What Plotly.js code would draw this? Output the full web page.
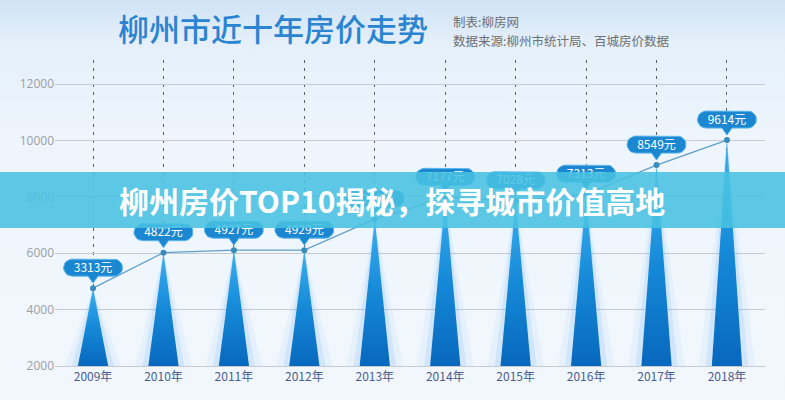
<!DOCTYPE html>
<html>
<head>
<meta charset="utf-8">
<script src="https://cdn.plot.ly/plotly-3.0.1.min.js"></script>
<style>
html, body { margin: 0; padding: 0; }
body {
  width: 785px; height: 400px; overflow: hidden;
  background: linear-gradient(180deg, #d0e3f5 0px, #e5f0fa 45px, #eef5fc 140px, #f1f7fd 400px);
}
#chart { width: 785px; height: 400px; }
</style>
</head>
<body>
<div id="chart"></div>
<script>
// ---- data ----
const years = ['2009', '2010', '2011', '2012', '2013', '2014', '2015', '2016', '2017', '2018'];
const prices = [3313, 4822, 4927, 4929, 6250, 7177, 7028, 7313, 8549, 9614];
const yTickVals = [2000, 4000, 6000, 8000, 10000, 12000];
const yTickText = ['2000', '4000', '6000', '8000', '10000', '12000'];
const titleText = '柳州市近十年房价走势';
const subLine1 = '制表:柳房网';
const subLine2 = '数据来源:柳州市统计局、百城房价数据';
const bannerText = '柳州房价TOP10揭秘，探寻城市价值高地';

// ---- layout constants ----
const W = 785, H = 400, M = {l: 55, r: 20, t: 60, b: 34};
const xRange = [-0.54, 9.54];
const y2Range = [0, 13021];
const plotW = W - M.l - M.r, plotH = H - M.t - M.b;
const sx = plotW / (xRange[1] - xRange[0]);   // px per x unit
const sy = plotH / (y2Range[1] - y2Range[0]); // px per y2 unit

// ---- build ----
const idx = years.map((_, i) => i);
const tickText = years.map(y => y + '年');
const labels = prices.map(v => v + '元');

const traces = [];
traces.push({x: [], y: [], type: 'scatter', mode: 'markers', yaxis: 'y', showlegend: false, hoverinfo: 'skip'});

// glow layers
[[0.40, 'rgba(80,175,240,0.07)'], [0.30, 'rgba(60,160,235,0.12)']].forEach(([hw, col]) => {
  idx.forEach(i => {
    traces.push({
      x: [i - hw, i, i + hw], y: [0, prices[i], 0], yaxis: 'y2',
      type: 'scatter', mode: 'lines', fill: 'toself', fillcolor: col,
      line: {width: 0}, showlegend: false, hoverinfo: 'skip'
    });
  });
});
// spikes
const hw = 0.215;
idx.forEach(i => {
  traces.push({
    x: [i - hw, i, i + hw], y: [0, prices[i], 0], yaxis: 'y2',
    type: 'scatter', mode: 'lines', fill: 'toself',
    fillgradient: {type: 'vertical', colorscale: [[0, '#0868bd'], [0.5, '#1589d7'], [1, '#3db0f1']]},
    line: {width: 0}, showlegend: false, hoverinfo: 'skip'
  });
});
// trend line
traces.push({
  x: idx, y: prices, yaxis: 'y2', type: 'scatter', mode: 'lines+markers',
  line: {color: '#5f9fcc', width: 1.2},
  marker: {size: 6, color: '#3a8cbd'},
  showlegend: false, hoverinfo: 'skip'
});

// bubble outline in pixel offsets (y up), converted to data space per point
function bubblePixels() {
  const pts = [[0, 5], [-5, 12], [-21, 12]];
  const r = 8.5, cy = 20.5;
  for (let k = 1; k <= 12; k++) { // left cap
    const a = -Math.PI / 2 - Math.PI * k / 12;
    pts.push([-21 + r * Math.cos(a), cy + r * Math.sin(a)]);
  }
  pts.push([21, 29]);
  for (let k = 1; k <= 12; k++) { // right cap
    const a = Math.PI / 2 - Math.PI * k / 12;
    pts.push([21 + r * Math.cos(a), cy + r * Math.sin(a)]);
  }
  pts.push([5, 12], [0, 5]);
  return pts;
}
const bp = bubblePixels();
idx.forEach(i => {
  traces.push({
    x: bp.map(p => idx[i] + p[0] / sx), y: bp.map(p => prices[i] + p[1] / sy), yaxis: 'y2',
    type: 'scatter', mode: 'lines', fill: 'toself', fillcolor: '#1b87d1',
    line: {color: '#5bb6ee', width: 1}, showlegend: false, hoverinfo: 'skip'
  });
});
// value labels (text)
traces.push({
  x: idx, y: prices, yaxis: 'y2', type: 'scatter', mode: 'markers+text',
  marker: {size: 20, opacity: 0}, text: labels, textposition: 'top center',
  textfont: {family: 'Noto Sans CJK SC', size: 12, color: '#ffffff'},
  showlegend: false, hoverinfo: 'skip', cliponaxis: false
});

const layout = {
  width: W, height: H,
  margin: M,
  paper_bgcolor: 'rgba(0,0,0,0)', plot_bgcolor: 'rgba(0,0,0,0)',
  hovermode: false, showlegend: false,
  title: {
    text: titleText, xref: 'container', yref: 'container',
    x: 118 / W, xanchor: 'left', y: 1 - 30 / H, yanchor: 'middle',
    font: {family: 'Noto Sans CJK SC', size: 31, color: '#2b84d1', weight: 500}
  },
  xaxis: {
    range: xRange, tickmode: 'array', tickvals: idx, ticktext: tickText,
    showgrid: true, gridcolor: '#5a5f66', gridwidth: 1, griddash: '3px,5px',
    zeroline: false, showline: true, linecolor: '#c6cbd2', linewidth: 1, ticks: '',
    tickfont: {family: 'Noto Sans CJK SC', size: 12, color: '#4a5d8e'}, fixedrange: true
  },
  yaxis: {
    range: [2000, 12851], tickmode: 'array', tickvals: yTickVals, ticktext: yTickText,
    showgrid: true, gridcolor: '#c6cbd2', gridwidth: 1, zeroline: false, ticks: '',
    tickfont: {family: 'Open Sans', size: 12, color: '#9aa0a8'}, fixedrange: true
  },
  yaxis2: {
    range: y2Range, overlaying: 'y', side: 'right', visible: false,
    showgrid: false, zeroline: false, fixedrange: true
  },
  shapes: [{
    type: 'rect', xref: 'paper', yref: 'paper', x0: -0.08, x1: 1.03, y0: 0.451, y1: 0.634,
    fillcolor: 'rgba(72,193,225,0.88)', line: {width: 0}, layer: 'above'
  }],
  annotations: [
    {text: subLine1, xref: 'paper', yref: 'paper', x: (451 - 55) / plotW, y: (366 - 21) / plotH,
     xanchor: 'left', yanchor: 'middle', showarrow: false,
     font: {family: 'Noto Sans CJK SC', size: 12.5, color: '#6d6f73'}},
    {text: subLine2, xref: 'paper', yref: 'paper', x: (451 - 55) / plotW, y: (366 - 40) / plotH,
     xanchor: 'left', yanchor: 'middle', showarrow: false,
     font: {family: 'Noto Sans CJK SC', size: 12.5, color: '#6d6f73'}},
    {text: bannerText, xref: 'paper', yref: 'paper', x: (392 - 55) / plotW, y: (366 - 200) / plotH,
     xanchor: 'center', yanchor: 'middle', showarrow: false,
     font: {family: 'Noto Sans CJK SC', size: 30, color: '#ffffff', weight: 'bold'}}
  ]
};

Plotly.newPlot('chart', traces, layout, {staticPlot: true, displayModeBar: false});
</script>
</body>
</html>
